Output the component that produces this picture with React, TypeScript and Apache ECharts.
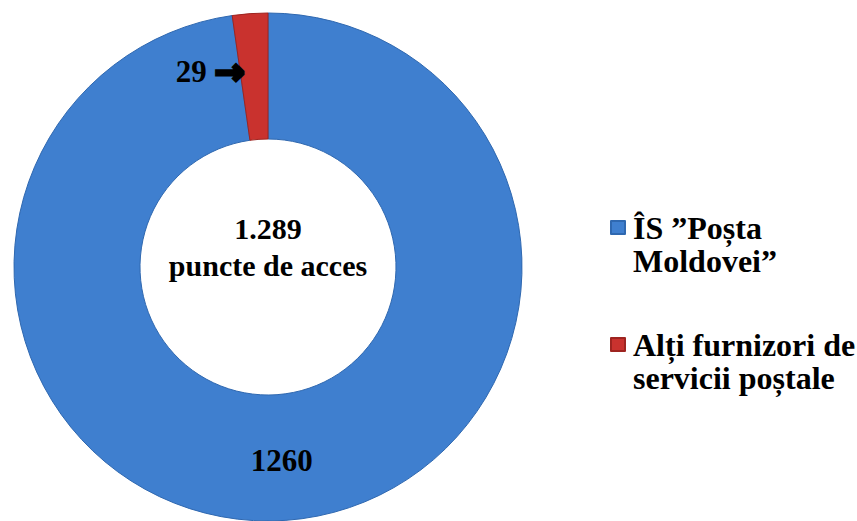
import React, { useEffect, useRef } from "react";
import * as echarts from "echarts";

const categories = ["ÎS ”Poșta\nMoldovei”", "Alți furnizori de\nservicii poștale"];
const values = [1260, 29];
const colors = ["#3F7FCF", "#C9322E"];
const centerLines = ["1.289", "puncte de acces"];

const FONT = "'Liberation Serif', 'Times New Roman', serif";

export default function App() {
  const ref = useRef<HTMLDivElement>(null);
  useEffect(() => {
    if (!ref.current) return;
    const chart = echarts.init(ref.current, undefined, { renderer: "svg" });
    const data = categories.map((name, i) => {
      const item: any = {
        name,
        value: values[i],
        itemStyle: { color: colors[i], borderColor: i === 0 ? "#2F68B0" : "#9E2420", borderWidth: 1 },
      };
      if (i === 1) {
        item.label = {
          position: "inside",
          offset: [-44, -2],
          formatter: "{v|{c}} {a|→}",
          rich: {
            v: { fontFamily: FONT, fontWeight: "bold", fontSize: 31, color: "#000" },
            a: {
              fontFamily: "'DejaVu Sans', sans-serif",
              fontWeight: "bold",
              fontSize: 36,
              color: "#000",
              textBorderColor: "#000",
              textBorderWidth: 3,
            },
          },
        };
      }
      return item;
    });
    chart.setOption({
      animation: false,
      backgroundColor: "#fff",
      legend: {
        orient: "vertical",
        left: 610,
        top: 178,
        padding: 0,
        itemWidth: 14,
        itemHeight: 13,
        itemGap: 18,
        icon: "rect",
        data: categories,
        formatter: (name: string) => "\n" + name,
        textStyle: {
          fontFamily: FONT,
          fontWeight: "bold",
          fontSize: 32,
          lineHeight: 33,
          color: "#000",
          padding: [0, 0, 0, 3],
        },
      },
      graphic: [
        {
          type: "text",
          x: 268,
          y: 247,
          style: {
            text: centerLines.join("\n"),
            fontFamily: FONT,
            fontWeight: "bold",
            fontSize: 30,
            lineHeight: 37,
            fill: "#000",
            align: "center",
            verticalAlign: "middle",
          },
        },
      ],
      series: [
        {
          type: "pie",
          center: [268, 267],
          radius: [128, 254],
          startAngle: 90,
          clockwise: true,
          avoidLabelOverlap: false,
          label: {
            show: true,
            position: "inside",
            formatter: "{c}",
            fontFamily: FONT,
            fontWeight: "bold",
            fontSize: 31,
            color: "#000",
          },
          labelLine: { show: false },
          emphasis: { disabled: true },
          data,
        },
      ],
    });
    return () => chart.dispose();
  }, []);
  return (
    <div
      ref={ref}
      style={{ position: "fixed", left: 0, top: 0, width: 857, height: 521 }}
    />
  );
}
